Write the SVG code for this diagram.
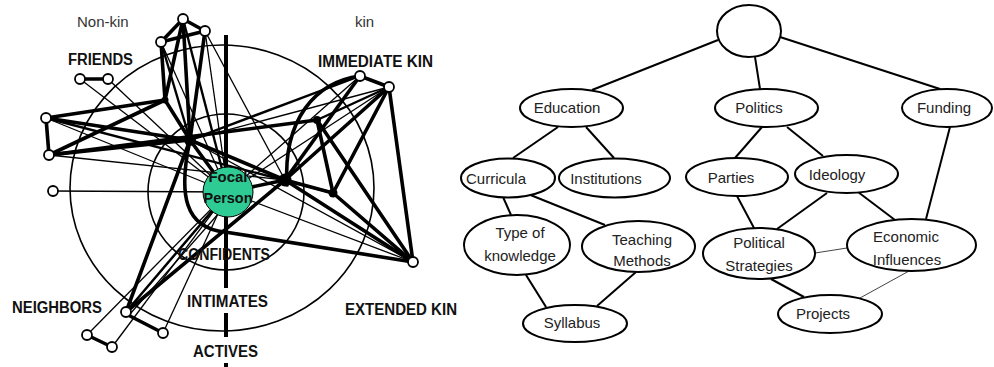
<svg xmlns="http://www.w3.org/2000/svg" width="994" height="367" viewBox="0 0 994 367">
  <style>
    .ring { fill: none; stroke: #000; stroke-width: 1.6; }
    .axis { stroke: #000; stroke-width: 4; }
    .thin { stroke: #000; stroke-width: 1.3; fill: none; }
    .mid { stroke: #000; stroke-width: 2.4; fill: none; }
    .thick { stroke: #000; stroke-width: 3.6; fill: none; stroke-linecap: round; }
    .nd { fill: #fff; stroke: #000; stroke-width: 1.8; }
    .hub { fill: #000; }
    .zone { font-family: "Liberation Sans", Arial, sans-serif; font-weight: bold; font-size: 16px; fill: #111; }
    .side { font-family: "Liberation Sans", Arial, sans-serif; font-size: 15px; fill: #333; }
    .focal { font-family: "Liberation Sans", Arial, sans-serif; font-weight: bold; font-size: 14px; fill: #111; text-anchor: middle; }
    .tn { fill: #fff; stroke: #000; stroke-width: 2; }
    .tl { font-family: "Liberation Sans", Arial, sans-serif; font-size: 15px; fill: #222; text-anchor: middle; }
    .te { stroke: #000; stroke-width: 2; }
    .tf { stroke: #444; stroke-width: 1; }
  </style>

  <rect width="994" height="367" fill="#fff"/>

  <!-- ===== Social network: rings and axis ===== -->
  <g id="rings">
    <circle class="ring" cx="226" cy="192" r="78"/>
    <ellipse class="ring" cx="222" cy="188" rx="152" ry="143"/>
  </g>
  <g id="axis">
    <line class="axis" x1="226" y1="35" x2="226" y2="288"/>
    <line class="axis" x1="226" y1="313" x2="226" y2="337"/>
    <line class="axis" x1="226" y1="363" x2="226" y2="367"/>
  </g>

  <!-- ===== Social network: ties ===== -->
  <g id="ties">
    <!-- thin ties -->
    <line class="thin" x1="80" y1="79" x2="228" y2="192"/>
    <line class="thin" x1="108" y1="79" x2="228" y2="192"/>
    <line class="thin" x1="53" y1="191" x2="228" y2="192"/>
    <line class="thin" x1="205" y1="31" x2="228" y2="192"/>
    <line class="thin" x1="205" y1="31" x2="285" y2="180"/>
    <line class="thin" x1="161" y1="42" x2="228" y2="192"/>
    <line class="thin" x1="46" y1="118" x2="228" y2="192"/>
    <line class="thin" x1="49" y1="155" x2="285" y2="180"/>
    <line class="thin" x1="87" y1="335" x2="228" y2="192"/>
    <line class="thin" x1="112" y1="347" x2="228" y2="192"/>
    <line class="thin" x1="163" y1="333" x2="228" y2="192"/>
    <line class="thin" x1="126" y1="312" x2="222" y2="200"/>
    <line class="thin" x1="130" y1="314" x2="234" y2="196"/>
    <line class="thin" x1="228" y1="192" x2="413" y2="262"/>
    <line class="thin" x1="190" y1="140" x2="413" y2="262"/>
    <line class="thin" x1="389" y1="87" x2="228" y2="192"/>
    <line class="thin" x1="389" y1="87" x2="285" y2="180"/>
    <line class="thin" x1="360" y1="76" x2="228" y2="192"/>
    <line class="thin" x1="389" y1="87" x2="190" y2="140"/>

    <!-- medium ties -->
    <line class="mid" x1="183" y1="19" x2="228" y2="192"/>
    <line class="mid" x1="161" y1="42" x2="190" y2="140"/>
    <line class="mid" x1="360" y1="76" x2="190" y2="140"/>
    <line class="mid" x1="389" y1="87" x2="317" y2="120"/>
    <line class="mid" x1="46" y1="118" x2="333" y2="193"/>
    <line class="mid" x1="126" y1="312" x2="228" y2="192"/>

    <!-- thick ties -->
    <line class="thick" x1="183" y1="19" x2="205" y2="31"/>
    <line class="thick" x1="183" y1="19" x2="161" y2="42"/>
    <line class="thick" x1="161" y1="42" x2="205" y2="31"/>
    <line class="thick" x1="183" y1="19" x2="165" y2="100"/>
    <line class="thick" x1="161" y1="42" x2="165" y2="100"/>
    <line class="thick" x1="183" y1="19" x2="190" y2="140"/>
    <line class="thick" x1="205" y1="31" x2="190" y2="140"/>
    <line class="thick" x1="165" y1="100" x2="46" y2="118"/>
    <line class="thick" x1="165" y1="100" x2="49" y2="155"/>
    <line class="thick" x1="165" y1="100" x2="190" y2="140"/>
    <line class="thick" x1="46" y1="118" x2="49" y2="155"/>
    <line class="thick" x1="46" y1="118" x2="190" y2="140"/>
    <line class="thick" x1="49" y1="155" x2="190" y2="140"/>
    <line class="thick" x1="49" y1="155" x2="317" y2="120"/>
    <line class="thick" x1="80" y1="79" x2="108" y2="79"/>
    <line class="thick" x1="190" y1="140" x2="228" y2="192"/>
    <line class="thick" x1="190" y1="140" x2="285" y2="180"/>
    <line class="thick" x1="228" y1="192" x2="285" y2="180"/>
    <line class="thick" x1="285" y1="180" x2="389" y2="87"/>
    <line class="thick" x1="285" y1="180" x2="360" y2="76"/>
    <line class="thick" x1="360" y1="76" x2="389" y2="87"/>
    <line class="thick" x1="389" y1="87" x2="413" y2="262"/>
    <line class="thick" x1="389" y1="87" x2="333" y2="193"/>
    <line class="thick" x1="285" y1="180" x2="413" y2="262"/>
    <line class="thick" x1="333" y1="193" x2="413" y2="262"/>
    <line class="thick" x1="317" y1="120" x2="413" y2="262"/>
    <line class="thick" x1="285" y1="180" x2="333" y2="193"/>
    <line class="thick" x1="317" y1="120" x2="333" y2="193"/>
    <line class="thick" x1="126" y1="312" x2="285" y2="180"/>
    <line class="thick" x1="126" y1="312" x2="190" y2="140"/>
    <line class="thick" x1="87" y1="335" x2="112" y2="347"/>
    <line class="thick" x1="130" y1="316" x2="163" y2="333"/>
    <path class="thick" d="M287,185 C283,120 315,82 360,76"/>
    <path class="thick" d="M190,140 C178,195 185,228 225,232 L413,262"/>
  </g>

  <!-- ===== Social network: people ===== -->
  <g id="hubs">
    <circle class="hub" cx="165" cy="100" r="3.5"/>
    <circle class="hub" cx="190" cy="140" r="6"/>
    <circle class="hub" cx="285" cy="180" r="6.5"/>
    <circle class="hub" cx="317" cy="120" r="4"/>
    <circle class="hub" cx="333" cy="193" r="4.5"/>
  </g>
  <g id="top-a"><circle class="nd" cx="183" cy="19" r="5"/></g>
  <g id="top-b"><circle class="nd" cx="205" cy="31" r="5"/></g>
  <g id="top-c"><circle class="nd" cx="161" cy="42" r="5"/></g>
  <g id="friend-a"><circle class="nd" cx="80" cy="79" r="5"/></g>
  <g id="friend-b"><circle class="nd" cx="108" cy="79" r="5"/></g>
  <g id="left-a"><circle class="nd" cx="46" cy="118" r="5"/></g>
  <g id="left-b"><circle class="nd" cx="49" cy="155" r="5"/></g>
  <g id="left-c"><circle class="nd" cx="53" cy="191" r="5"/></g>
  <g id="kin-a"><circle class="nd" cx="360" cy="76" r="5"/></g>
  <g id="kin-b"><circle class="nd" cx="389" cy="87" r="5"/></g>
  <g id="ext-kin"><circle class="nd" cx="413" cy="262" r="5"/></g>
  <g id="nb-a"><circle class="nd" cx="126" cy="312" r="5"/></g>
  <g id="nb-b"><circle class="nd" cx="87" cy="335" r="5"/></g>
  <g id="nb-c"><circle class="nd" cx="112" cy="347" r="5"/></g>
  <g id="nb-d"><circle class="nd" cx="163" cy="333" r="5"/></g>

  <g id="focal">
    <circle cx="228" cy="192" r="25" fill="#2ecc94" stroke="#000" stroke-width="1"/>
    <text class="focal" x="228" y="182" textLength="39" lengthAdjust="spacingAndGlyphs">Focal</text>
    <text class="focal" x="228" y="203" textLength="49" lengthAdjust="spacingAndGlyphs">Person</text>
  </g>

  <!-- ===== Social network: labels ===== -->
  <g id="labels">
    <text class="side" x="77" y="27">Non-kin</text>
    <text class="side" x="355" y="27">kin</text>
    <text class="zone" x="68" y="65" textLength="65" lengthAdjust="spacingAndGlyphs">FRIENDS</text>
    <text class="zone" x="318" y="67" textLength="115" lengthAdjust="spacingAndGlyphs">IMMEDIATE KIN</text>
    <text class="zone" x="12" y="313" textLength="90" lengthAdjust="spacingAndGlyphs">NEIGHBORS</text>
    <text class="zone" x="178" y="260" textLength="92" lengthAdjust="spacingAndGlyphs">CONFIDENTS</text>
    <text class="zone" x="187" y="307" textLength="81" lengthAdjust="spacingAndGlyphs">INTIMATES</text>
    <text class="zone" x="193" y="357" textLength="65" lengthAdjust="spacingAndGlyphs">ACTIVES</text>
    <text class="zone" x="345" y="315" textLength="112" lengthAdjust="spacingAndGlyphs">EXTENDED KIN</text>
  </g>

  <!-- ===== Topic tree: connectors ===== -->
  <g id="tree-links">
    <line class="te" x1="718" y1="40" x2="592" y2="90"/>
    <line class="te" x1="755" y1="57" x2="760" y2="89"/>
    <line class="te" x1="780" y1="37" x2="940" y2="89"/>
    <line class="te" x1="558" y1="127" x2="513" y2="158"/>
    <line class="te" x1="586" y1="127" x2="614" y2="158"/>
    <line class="te" x1="762" y1="127" x2="735" y2="158"/>
    <line class="te" x1="787" y1="127" x2="823" y2="156"/>
    <line class="te" x1="950" y1="127" x2="926" y2="219"/>
    <line class="te" x1="503" y1="197" x2="511" y2="215"/>
    <line class="te" x1="528" y1="194" x2="605" y2="225"/>
    <line class="te" x1="526" y1="275" x2="546" y2="307"/>
    <line class="te" x1="636" y1="272" x2="597" y2="306"/>
    <line class="te" x1="737" y1="196" x2="754" y2="228"/>
    <line class="te" x1="827" y1="193" x2="777" y2="229"/>
    <line class="te" x1="858" y1="192" x2="895" y2="220"/>
    <line class="tf" x1="815" y1="253" x2="847" y2="248"/>
    <line class="te" x1="771" y1="279" x2="804" y2="297"/>
    <line class="tf" x1="909" y1="271" x2="860" y2="298"/>
  </g>

  <!-- ===== Topic tree: nodes ===== -->
  <g id="root"><ellipse class="tn" cx="749" cy="31" rx="32" ry="26"/></g>
  <g id="education">
    <ellipse class="tn" cx="571.5" cy="108" rx="51.5" ry="19"/>
    <text class="tl" x="567" y="113">Education</text>
  </g>
  <g id="politics">
    <ellipse class="tn" cx="766.5" cy="108" rx="51.5" ry="19"/>
    <text class="tl" x="759" y="113">Politics</text>
  </g>
  <g id="funding">
    <ellipse class="tn" cx="947" cy="108" rx="45" ry="19"/>
    <text class="tl" x="944" y="113">Funding</text>
  </g>
  <g id="curricula">
    <ellipse class="tn" cx="508" cy="178" rx="47" ry="19.5"/>
    <text class="tl" x="496" y="184">Curricula</text>
  </g>
  <g id="institutions">
    <ellipse class="tn" cx="614.5" cy="178" rx="55.5" ry="19.5"/>
    <text class="tl" x="606" y="184">Institutions</text>
  </g>
  <g id="parties">
    <ellipse class="tn" cx="737" cy="177" rx="51" ry="19"/>
    <text class="tl" x="731" y="183">Parties</text>
  </g>
  <g id="ideology">
    <ellipse class="tn" cx="846.5" cy="174" rx="51.5" ry="19"/>
    <text class="tl" x="837" y="180">Ideology</text>
  </g>
  <g id="type-of-knowledge">
    <ellipse class="tn" cx="517" cy="245" rx="53" ry="30"/>
    <text class="tl" x="520" y="238">Type of</text>
    <text class="tl" x="520" y="261">knowledge</text>
  </g>
  <g id="teaching-methods">
    <ellipse class="tn" cx="638.5" cy="246.5" rx="56.5" ry="25.5"/>
    <text class="tl" x="642" y="245">Teaching</text>
    <text class="tl" x="642" y="266">Methods</text>
  </g>
  <g id="syllabus">
    <ellipse class="tn" cx="575" cy="323.5" rx="52" ry="18.5"/>
    <text class="tl" x="572" y="328">Syllabus</text>
  </g>
  <g id="political-strategies">
    <ellipse class="tn" cx="759" cy="253.5" rx="56" ry="25.5"/>
    <text class="tl" x="759" y="248">Political</text>
    <text class="tl" x="759" y="271">Strategies</text>
  </g>
  <g id="economic-influences">
    <ellipse class="tn" cx="911.5" cy="245" rx="64.5" ry="26"/>
    <text class="tl" x="906" y="242">Economic</text>
    <text class="tl" x="907" y="265">Influences</text>
  </g>
  <g id="projects">
    <ellipse class="tn" cx="830" cy="314" rx="52" ry="19"/>
    <text class="tl" x="823" y="319">Projects</text>
  </g>
</svg>
